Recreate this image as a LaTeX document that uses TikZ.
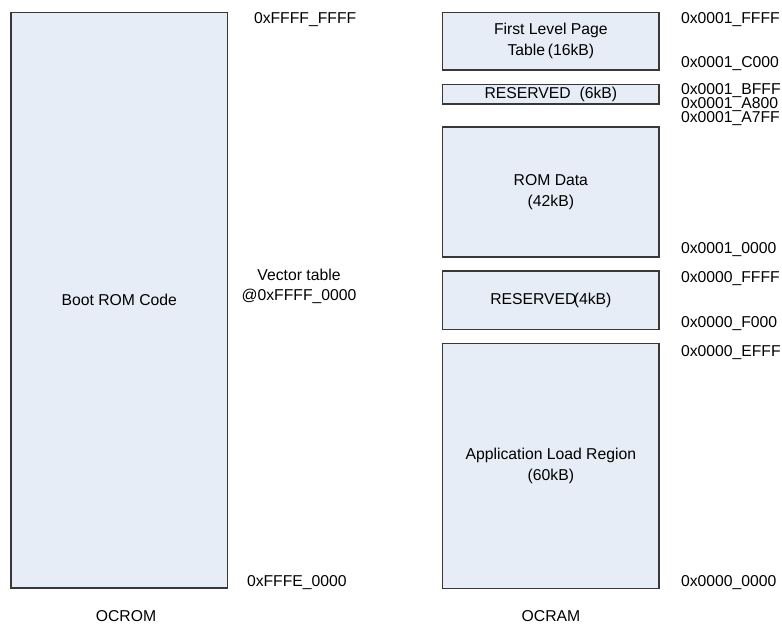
\documentclass[tikz,border=0pt]{standalone}
\usepackage{fontspec}
\setmainfont{Liberation Sans}
\definecolor{boxfill}{HTML}{E6EDF7}
\definecolor{boxline}{HTML}{383838}
\begin{document}
\begin{tikzpicture}[x=0.75pt,y=-0.75pt,
  every node/.style={font=\fontsize{11.8pt}{15.4pt}\selectfont, inner sep=0pt, outer sep=0pt},
  membox/.style={draw=boxline, fill=boxfill, line width=0.8pt, align=center},
  addr/.style={anchor=base west},
  caption/.style={anchor=base}]
\useasboundingbox (0,0) rectangle (782,625);
% OCROM
\node[membox, minimum width=162.4pt, minimum height=431.8pt] (rom) at (119.25,300.15) {Boot ROM Code};
\node[addr] (romtop) at (254,23.5) {0xFFFF\_FFFF};
\node[align=center] (vec) at (299,286.5) {Vector table\\@0xFFFF\_0000};
\node[addr] (rombot) at (247,586.5) {0xFFFE\_0000};
\node[caption] (ocrom) at (126,621.5) {OCROM};
% OCRAM
\node[membox, minimum width=162.2pt, minimum height=43.3pt] (plt) at (550.85,41.15) {First Level Page\\Table\,(16kB)};
\node[membox, minimum width=162.2pt, minimum height=14.8pt] (res6) at (550.85,94.15) {RESERVED\ \ (6kB)};
\node[membox, minimum width=162.2pt, minimum height=97.5pt] (romdata) at (550.85,192) {ROM Data\\(42kB)};
\node[membox, minimum width=162.2pt, minimum height=43.7pt] (res4) at (550.85,300.15) {RESERVED\kern-2pt(4kB)};
\node[membox, minimum width=162.2pt, minimum height=183.75pt] (app) at (550.85,465.8) {Application Load Region\\(60kB)};
\node[addr] (a1) at (681,23.5) {0x0001\_FFFF};
\node[addr] (a2) at (681,67.5) {0x0001\_C000};
\node[addr] (a3) at (681,94.5) {0x0001\_BFFF};
\node[addr] (a4) at (681,108.5) {0x0001\_A800};
\node[addr] (a5) at (681,122.5) {0x0001\_A7FF};
\node[addr] (a6) at (681,253.5) {0x0001\_0000};
\node[addr] (a7) at (681,282.5) {0x0000\_FFFF};
\node[addr] (a8) at (681,327.5) {0x0000\_F000};
\node[addr] (a9) at (681,356.5) {0x0000\_EFFF};
\node[addr] (a10) at (681,586.5) {0x0000\_0000};
\node[caption] (ocram) at (551,621) {OCRAM};
\end{tikzpicture}
\end{document}
